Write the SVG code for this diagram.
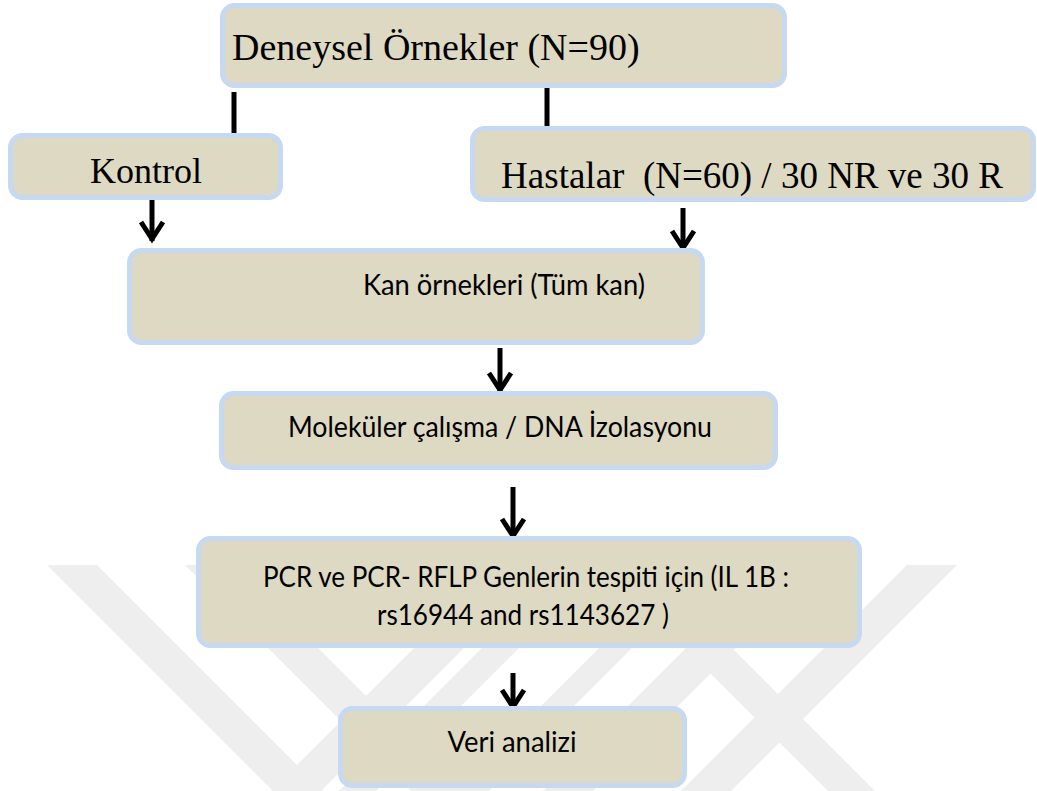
<svg xmlns="http://www.w3.org/2000/svg" width="1037" height="791" viewBox="0 0 1037 791">
  <style>
    .box { fill: #DDD9C3; stroke: #C6D9F1; stroke-width: 5; }
    .serif { font-family: "Liberation Serif", "Times New Roman", serif; fill: #000; }
    .sans { font-family: Lato, "Open Sans", "Liberation Sans", sans-serif; font-size: 29px; fill: #000; }
    .wm { fill: #EEEEEE; }
    .conn line { stroke: #000; stroke-width: 5; fill: none; }
    .arrow { marker-end: url(#head); }
  </style>
  <defs>
    <marker id="head" markerUnits="userSpaceOnUse" viewBox="-22 -14 26 28" markerWidth="26" markerHeight="28" refX="2" refY="0" orient="auto" overflow="visible">
      <path d="M-17,-11 L0,0 L-17,11" fill="none" stroke="#000" stroke-width="5" stroke-linejoin="miter"/>
    </marker>
    <clipPath id="wmclip">
      <rect x="0" y="565" width="1037" height="226"/>
    </clipPath>
  </defs>
  <rect width="1037" height="791" fill="#FFFFFF"/>

  <g id="watermark" clip-path="url(#wmclip)">
    <polygon class="wm" points="47,565 97,565 397,865 347,865"/>
    <polygon class="wm" points="185,565 235,565 535,865 485,865"/>
    <polygon class="wm" points="497,565 547,565 247,865 197,865"/>
    <polygon class="wm" points="565,565 602,565 302,865 265,865"/>
    <polygon class="wm" points="682,565 715,565 415,865 382,865"/>
    <polygon class="wm" points="769,565 819,565 519,865 469,865"/>
    <polygon class="wm" points="907,565 957,565 657,865 607,865"/>
    <polygon class="wm" points="714,630 949,865 902,865 667,630"/>
  </g>

  <g id="connectors" class="conn">
    <line x1="234" y1="92" x2="234" y2="137"/>
    <line x1="547" y1="82" x2="547" y2="127"/>
    <line class="arrow" x1="152" y1="198" x2="152" y2="241"/>
    <line class="arrow" x1="683" y1="208" x2="683" y2="250"/>
    <line class="arrow" x1="500" y1="348" x2="500" y2="392"/>
    <line class="arrow" x1="513" y1="487" x2="513" y2="538"/>
    <line class="arrow" x1="513" y1="673" x2="513" y2="709"/>
  </g>

  <g id="node-deneysel">
    <rect class="box" x="222.5" y="5.5" width="562" height="80" rx="12"/>
    <text class="serif" x="232" y="60" font-size="38">Deneysel Örnekler (N=90)</text>
  </g>
  <g id="node-kontrol">
    <rect class="box" x="10.5" y="135.5" width="270" height="62" rx="12"/>
    <text class="serif" x="146" y="183" font-size="36" text-anchor="middle">Kontrol</text>
  </g>
  <g id="node-hastalar">
    <rect class="box" x="472.5" y="128.5" width="561" height="71" rx="12"/>
    <text class="serif" x="752" y="188" font-size="37" text-anchor="middle" xml:space="preserve">Hastalar  (N=60) / 30 NR ve 30 R</text>
  </g>
  <g id="node-kan">
    <rect class="box" x="129.5" y="250.5" width="573" height="92" rx="12"/>
    <text class="sans" x="504" y="295" text-anchor="middle" textLength="282" lengthAdjust="spacingAndGlyphs">Kan örnekleri (Tüm kan)</text>
  </g>
  <g id="node-molekuler">
    <rect class="box" x="221.5" y="393.5" width="554" height="74" rx="12"/>
    <text class="sans" x="500" y="437" text-anchor="middle" textLength="424" lengthAdjust="spacingAndGlyphs">Moleküler çalışma / DNA İzolasyonu</text>
  </g>
  <g id="node-pcr">
    <rect class="box" x="198.5" y="538.5" width="661" height="107" rx="12"/>
    <text class="sans" x="526" y="587" text-anchor="middle" textLength="526" lengthAdjust="spacingAndGlyphs">PCR ve PCR- RFLP Genlerin tespiti için (IL 1B :</text>
    <text class="sans" x="523" y="625" text-anchor="middle" textLength="292" lengthAdjust="spacingAndGlyphs">rs16944 and rs1143627 )</text>
  </g>
  <g id="node-veri">
    <rect class="box" x="340.5" y="708.5" width="344" height="77" rx="12"/>
    <text class="sans" x="512" y="752" text-anchor="middle" textLength="129" lengthAdjust="spacingAndGlyphs">Veri analizi</text>
  </g>
</svg>
